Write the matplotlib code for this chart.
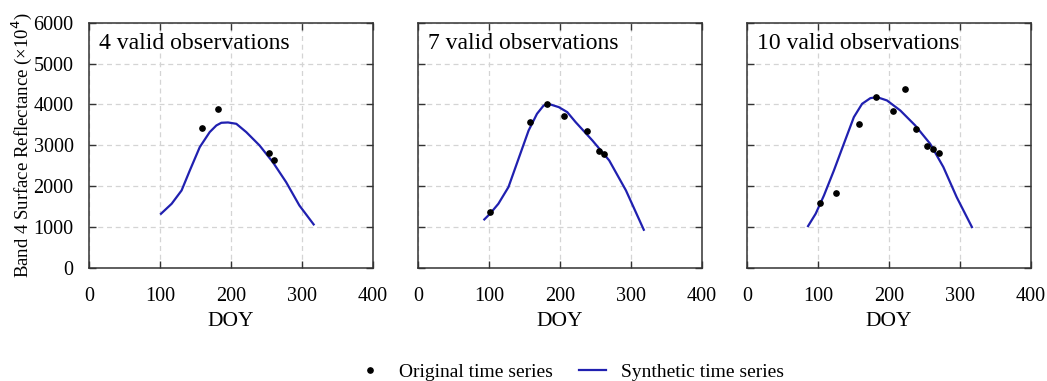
import matplotlib
matplotlib.use("Agg")
import matplotlib.pyplot as plt
from matplotlib.lines import Line2D

plt.rcParams['font.family'] = ['Liberation Serif', 'DejaVu Serif']

titles = ["4 valid observations", "7 valid observations", "10 valid observations"]

obs_doy_1 = [158.5, 181.5, 253, 261]
obs_val_1 = [3425, 3880, 2820, 2650]
syn_doy_1 = [101.4, 116.4, 130.4, 142, 156, 170, 179.4, 186.4, 195.8, 207.5, 221.5, 240.2, 258.9, 277.6, 296.3, 316.4]
syn_val_1 = [1327, 1571, 1897, 2386, 2957, 3324, 3487, 3552, 3560, 3527, 3324, 2998, 2590, 2101, 1530, 1066]

obs_doy_2 = [101.5, 157.5, 182, 205.5, 238.5, 254.5, 262.5]
obs_val_2 = [1367, 3580, 4005, 3708, 3360, 2870, 2780]
syn_doy_2 = [93.4, 101.4, 113.2, 127.4, 141.6, 155.8, 167.6, 177, 186.5, 198.3, 210.2, 222, 245.6, 269.3, 292.9, 318]
syn_val_2 = [1188, 1327, 1571, 1979, 2672, 3364, 3772, 3976, 4000, 3935, 3813, 3568, 3120, 2631, 1897, 935]

obs_doy_3 = [102.5, 126, 158, 182.2, 206, 222.4, 238, 253.8, 261.8, 269.8]
obs_val_3 = [1585, 1840, 3530, 4180, 3833, 4370, 3388, 2980, 2905, 2810]
syn_doy_3 = [86, 96.7, 108.4, 122.4, 136.4, 150.5, 162.1, 173.8, 183.2, 197.2, 215.9, 236.9, 258, 276.6, 295.3, 316.8]
syn_val_3 = [1025, 1327, 1775, 2386, 3038, 3690, 4016, 4155, 4179, 4098, 3853, 3487, 3038, 2468, 1734, 1001]

x_ticks = [0, 100, 200, 300, 400]
y_ticks = [0, 1000, 2000, 3000, 4000, 5000, 6000]

obs_sets = [(obs_doy_1, obs_val_1), (obs_doy_2, obs_val_2), (obs_doy_3, obs_val_3)]
syn_sets = [(syn_doy_1, syn_val_1), (syn_doy_2, syn_val_2), (syn_doy_3, syn_val_3)]

line_color = '#2020b0'

W, H = 1047, 381
fig = plt.figure(figsize=(W / 100, H / 100), dpi=100)
lefts = [89, 418, 747]
ax_w, top_px, bot_px = 284, 22.7, 268

for i, left in enumerate(lefts):
    ax = fig.add_axes([left / W, (H - bot_px) / H, ax_w / W, (bot_px - top_px) / H])
    ax.set_xlim(0, 400)
    ax.set_ylim(0, 6000)
    ax.set_xticks(x_ticks)
    ax.set_yticks(y_ticks)
    ax.grid(True, color='#d4d4d4', linestyle=(0, (4, 3)), linewidth=0.9)
    ax.set_axisbelow(True)
    ax.tick_params(direction='in', top=True, right=True, length=5, width=1,
                   labelsize=14.5, pad=11, color='#333333')
    ax.tick_params(axis='x', pad=14)
    for s in ax.spines.values():
        s.set_color('#333333')
        s.set_linewidth(1.1)
    if i > 0:
        ax.tick_params(labelleft=False)
    d, v = syn_sets[i]
    ax.plot(d, v, color=line_color, linewidth=1.6)
    d, v = obs_sets[i]
    ax.plot(d, v, 'o', color='black', markersize=3.8, linestyle='none')
    ax.set_xlabel('DOY', fontsize=15.5, labelpad=4)
    ax.text(0.035, 0.96, titles[i], transform=ax.transAxes, ha='left', va='top', fontsize=17)
    if i == 0:
        ax.set_ylabel('Band 4 Surface Reflectance (×10$^4$)', fontsize=13.5, labelpad=-0.5)

handles = [Line2D([], [], marker='o', color='black', linestyle='none', markersize=3.8),
           Line2D([], [], color=line_color, linewidth=1.6)]
fig.legend(handles, ['Original time series', 'Synthetic time series'], loc='center',
           bbox_to_anchor=(0.5446, 1 - 372 / H), ncol=2, frameon=False, fontsize=14,
           handlelength=1.4, columnspacing=1.34, handletextpad=0.77)

fig.savefig('out.png', dpi=100)
